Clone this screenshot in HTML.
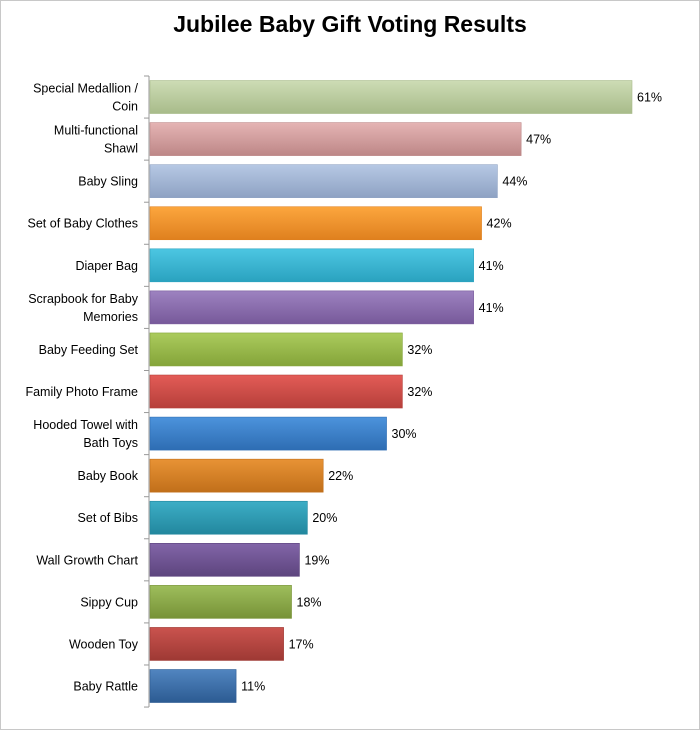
<!DOCTYPE html>
<html><head><meta charset="utf-8"><style>
body{margin:0;background:#fff}
#wrap{position:relative;width:698px;height:728px;border:1px solid #c8c8c8;background:#fff;font-family:"Liberation Sans",sans-serif}
svg{position:absolute;left:0;top:0}
</style></head><body>
<div id="wrap">
<svg id="chart" width="698" height="728">
<defs id="defs"></defs>
<text x="349" y="31" text-anchor="middle" font-size="23" font-weight="bold" fill="#000">Jubilee Baby Gift Voting Results</text>
</svg>
</div>
<script>
const categories=[["Special Medallion /","Coin"],["Multi-functional","Shawl"],["Baby Sling"],["Set of Baby Clothes"],["Diaper Bag"],["Scrapbook for Baby","Memories"],["Baby Feeding Set"],["Family Photo Frame"],["Hooded Towel with","Bath Toys"],["Baby Book"],["Set of Bibs"],["Wall Growth Chart"],["Sippy Cup"],["Wooden Toy"],["Baby Rattle"]];
const values=[61,47,44,42,41,41,32,32,30,22,20,19,18,17,11];
const valueLabels=["61%","47%","44%","42%","41%","41%","32%","32%","30%","22%","20%","19%","18%","17%","11%"];
const colorsTop=["#cddcb5","#e5b4b4","#b6c8e4","#fca63e","#4cc6e2","#9d82c0","#abcb5d","#e35c57","#4c93dc","#e89335","#3daec6","#8265a8","#9ebe5c","#ca534e","#5185c0"];
const colorsBot=["#a8bb8a","#bd8787","#8ea2c3","#df801e","#2aa2bf","#77599a","#84a439","#b63f3a","#2e6db3","#c16f1a","#22879e","#5d457e","#779237","#9e3934","#2c5b92"];
const svg=document.getElementById('chart'),defs=document.getElementById('defs');
const NS='http://www.w3.org/2000/svg';
const x0=148,xScale=v=>x0+v*(631-x0)/61;
const yTop=75,pitch=42.07,barH=33;
const yBand=i=>yTop+i*pitch;
function mk(t,a){const e=document.createElementNS(NS,t);for(const k in a)e.setAttribute(k,a[k]);return e;}
const ax=mk('line',{x1:x0,x2:x0,y1:yTop,y2:yBand(categories.length),stroke:'#999','stroke-width':1});


svg.appendChild(ax);
for(let i=0;i<=categories.length;i++){
 const t=mk('line',{x1:x0-5,x2:x0,y1:yBand(i),y2:yBand(i),stroke:'#999'});
 
 
 svg.appendChild(t);
}
values.forEach((v,i)=>{
 const g=mk('linearGradient',{id:'g'+i,x1:0,y1:0,x2:0,y2:1});
 g.appendChild(mk('stop',{offset:'0','stop-color':colorsTop[i]}));
 g.appendChild(mk('stop',{offset:'1','stop-color':colorsBot[i]}));
 defs.appendChild(g);
 const yc=yBand(i)+pitch/2;
 const r=mk('rect',{x:x0+1,y:yc-barH/2,width:xScale(v)-x0-1,height:barH,fill:'url(#g'+i+')',stroke:colorsBot[i],'stroke-width':0.6});
 
 
 svg.appendChild(r);
 const vl=mk('text',{x:xScale(v)+5,y:yc+4.5,'font-size':12.5,fill:'#000'});
 vl.textContent=valueLabels[i];
 
 
 svg.appendChild(vl);
 const lines=categories[i];
 lines.forEach((s,j)=>{
  const ty=yc+4.5+(j-(lines.length-1)/2)*18;
  const cl=mk('text',{x:x0-11,y:ty,'text-anchor':'end','font-size':12.5,fill:'#000'});
  cl.textContent=s;
  
  
  svg.appendChild(cl);
 });
});
</script>
</body></html>
